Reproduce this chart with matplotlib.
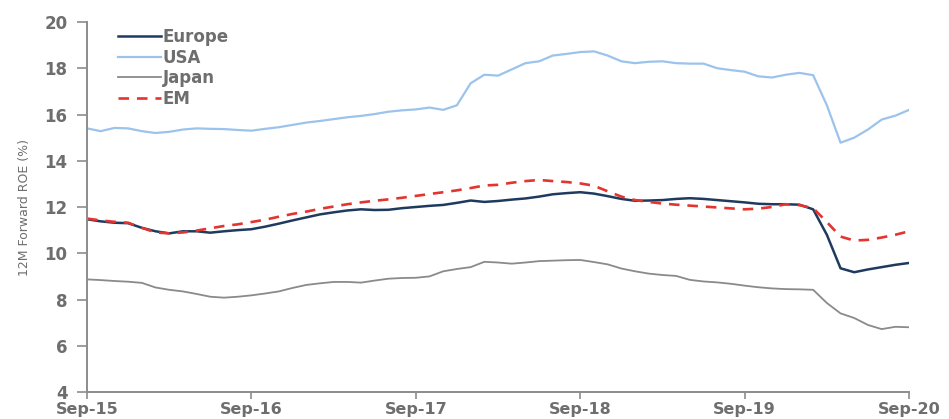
import matplotlib
matplotlib.use('Agg')
import matplotlib.pyplot as plt

# monthly readings, Sep-15 .. Sep-20 (61 points)
months = list(range(61))
tick_pos = [0, 12, 24, 36, 48, 60]
tick_labels = ['Sep-15', 'Sep-16', 'Sep-17', 'Sep-18', 'Sep-19', 'Sep-20']

europe = [11.47, 11.38, 11.32, 11.30, 11.10, 10.95, 10.86, 10.95, 10.95, 10.89,
          10.95, 11.00, 11.04, 11.15, 11.28, 11.42, 11.55, 11.68, 11.77, 11.85,
          11.90, 11.87, 11.88, 11.95, 12.00, 12.05, 12.09, 12.18, 12.28, 12.22,
          12.26, 12.32, 12.37, 12.45, 12.55, 12.60, 12.64, 12.58, 12.47, 12.35,
          12.27, 12.28, 12.30, 12.35, 12.38, 12.35, 12.30, 12.25, 12.20, 12.14,
          12.12, 12.12, 12.10, 11.90, 10.80, 9.35, 9.18, 9.30, 9.40, 9.50, 9.58]

usa = [15.40, 15.28, 15.42, 15.40, 15.28, 15.20, 15.25, 15.35, 15.40, 15.38,
       15.37, 15.33, 15.30, 15.38, 15.45, 15.55, 15.65, 15.72, 15.80, 15.88,
       15.94, 16.02, 16.12, 16.18, 16.22, 16.30, 16.20, 16.40, 17.35, 17.72,
       17.68, 17.95, 18.22, 18.30, 18.55, 18.62, 18.70, 18.73, 18.55, 18.30,
       18.22, 18.28, 18.30, 18.22, 18.20, 18.20, 18.00, 17.92, 17.85, 17.65,
       17.60, 17.72, 17.80, 17.70, 16.40, 14.78, 15.00, 15.35, 15.78, 15.95, 16.20]

japan = [8.87, 8.84, 8.80, 8.77, 8.72, 8.52, 8.42, 8.35, 8.24, 8.12,
         8.08, 8.12, 8.18, 8.26, 8.35, 8.50, 8.63, 8.70, 8.76, 8.76,
         8.73, 8.82, 8.90, 8.93, 8.94, 9.00, 9.22, 9.32, 9.40, 9.63,
         9.60, 9.55, 9.60, 9.66, 9.68, 9.70, 9.71, 9.62, 9.52, 9.34,
         9.22, 9.12, 9.06, 9.02, 8.85, 8.78, 8.74, 8.68, 8.60, 8.53,
         8.48, 8.45, 8.44, 8.42, 7.85, 7.40, 7.20, 6.90, 6.72, 6.82, 6.80]

em = [11.50, 11.42, 11.36, 11.32, 11.10, 10.90, 10.86, 10.90, 10.98, 11.08,
      11.18, 11.25, 11.35, 11.45, 11.58, 11.70, 11.80, 11.92, 12.02, 12.12,
      12.20, 12.27, 12.33, 12.40, 12.48, 12.56, 12.64, 12.72, 12.82, 12.93,
      12.96, 13.05, 13.12, 13.17, 13.12, 13.08, 13.02, 12.92, 12.68, 12.45,
      12.30, 12.22, 12.15, 12.10, 12.06, 12.02, 11.98, 11.94, 11.90, 11.93,
      12.00, 12.12, 12.08, 11.95, 11.35, 10.72, 10.55, 10.58, 10.68, 10.80, 10.95]

grey = '#6e6e6e'

fig = plt.figure(figsize=(9.49, 4.19), dpi=100)
ax = fig.add_axes([0.0917, 0.0644, 0.8662, 0.8831])

ax.plot(months, europe, color='#1f3a5f', lw=1.8, label='Europe')
ax.plot(months, usa, color='#9cc3ec', lw=1.6, label='USA')
ax.plot(months, japan, color='#8a8a8a', lw=1.3, label='Japan')
ax.plot(months, em, color='#e3342f', lw=1.9, ls=(0, (4, 3)), label='EM')

ax.set_xlim(0, 60)
ax.set_ylim(4, 20)
ax.set_yticks(range(4, 21, 2))
ax.set_xticks(tick_pos)
ax.set_xticklabels(tick_labels)

for s in ['top', 'right']:
    ax.spines[s].set_visible(False)
for s in ['left', 'bottom']:
    ax.spines[s].set_color('#8c8c8c')
    ax.spines[s].set_linewidth(1.4)

ax.tick_params(axis='both', colors='#8c8c8c', labelcolor=grey, width=1.2)
ax.tick_params(axis='y', length=7, pad=7, labelsize=12)
ax.tick_params(axis='x', length=5, pad=2.5, labelsize=11.5)
for lbl in ax.get_xticklabels() + ax.get_yticklabels():
    lbl.set_fontweight('bold')

ax.set_ylabel('12M Forward ROE (%)', fontsize=9, color=grey, labelpad=10)

leg = ax.legend(loc='upper left', bbox_to_anchor=(0.025, 1.01), frameon=False,
                handlelength=2.6, handletextpad=0.1, labelspacing=0.15,
                borderaxespad=0.2,
                prop={'size': 12, 'weight': 'bold'})
for t in leg.get_texts():
    t.set_color(grey)

fig.savefig('out.png', dpi=100)
